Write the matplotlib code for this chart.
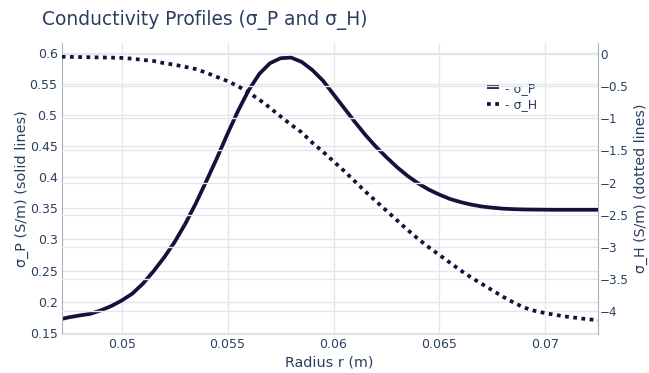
import matplotlib
matplotlib.use("Agg")
import matplotlib.pyplot as plt
from matplotlib.ticker import FuncFormatter, MultipleLocator

# radius samples (m)
radius = [0.04717, 0.0475, 0.048, 0.0485, 0.049, 0.0495, 0.050, 0.0505, 0.051, 0.0515,
          0.052, 0.0525, 0.053, 0.0535, 0.054, 0.0545, 0.055, 0.0555, 0.056, 0.0565,
          0.057, 0.0575, 0.058, 0.0585, 0.059, 0.0595, 0.060, 0.0605, 0.061, 0.0615,
          0.062, 0.0625, 0.063, 0.0635, 0.064, 0.0645, 0.065, 0.0655, 0.066, 0.0665,
          0.067, 0.0675, 0.068, 0.0685, 0.069, 0.0695, 0.070, 0.0705, 0.071, 0.0715,
          0.072, 0.0725]

# Pedersen conductivity (S/m)
sigma_p = [0.1725, 0.175, 0.178, 0.1805, 0.186, 0.193, 0.202, 0.213, 0.229, 0.249,
           0.271, 0.296, 0.325, 0.358, 0.394, 0.431, 0.470, 0.507, 0.540, 0.566,
           0.583, 0.591, 0.592, 0.585, 0.572, 0.555, 0.533, 0.511, 0.489, 0.468,
           0.449, 0.432, 0.416, 0.402, 0.390, 0.380, 0.372, 0.365, 0.360, 0.356,
           0.353, 0.351, 0.3495, 0.3487, 0.3482, 0.348, 0.3478, 0.3477, 0.3477, 0.3477,
           0.3477, 0.3477]

# Hall conductivity (S/m)
sigma_h = [-0.04, -0.042, -0.045, -0.048, -0.051, -0.054, -0.058, -0.07, -0.09, -0.106,
           -0.14, -0.165, -0.198, -0.232, -0.29, -0.355, -0.42, -0.50, -0.60, -0.71,
           -0.835, -0.97, -1.10, -1.22, -1.38, -1.52, -1.67, -1.82, -1.98, -2.14,
           -2.29, -2.44, -2.59, -2.74, -2.88, -3.01, -3.13, -3.25, -3.37, -3.48,
           -3.58, -3.68, -3.78, -3.87, -3.95, -4.00, -4.035, -4.065, -4.09, -4.11,
           -4.13, -4.145]

TEXT = '#2a3f5f'
LINE = '#15103c'
GRID = '#e3e7ec'

plt.rcParams['font.family'] = ['DejaVu Sans']

fig = plt.figure(figsize=(6.49, 3.73), dpi=100)
ax = fig.add_axes([0.0951, 0.1046, 0.921 - 0.0951, 0.884 - 0.1046])
ax2 = ax.twinx()

lp, = ax.plot(radius, sigma_p, color=LINE, lw=2.7, solid_capstyle='butt', label='- σ_P')
lh, = ax2.plot(radius, sigma_h, color=LINE, lw=2.7, linestyle=(0, (1, 1.2)),
               dash_capstyle='butt', label='- σ_H')

ax.set_xlim(0.04717, 0.07247)
ax.set_ylim(0.1483, 0.615)
ax2.set_ylim(-4.36, 0.17)

ax.xaxis.set_major_locator(MultipleLocator(0.005))
ax.yaxis.set_major_locator(MultipleLocator(0.05))
ax2.yaxis.set_major_locator(MultipleLocator(0.5))

fmt = FuncFormatter(lambda v, p: ('%g' % round(v, 4)).replace('-', '\u2212'))
ax.xaxis.set_major_formatter(fmt)
ax.yaxis.set_major_formatter(fmt)
ax2.yaxis.set_major_formatter(fmt)

for a in (ax, ax2):
    a.grid(True, color=GRID, lw=1)
    a.set_axisbelow(True)
    a.tick_params(colors=TEXT, labelsize=9, length=0, pad=3)
    for s in a.spines.values():
        s.set_visible(False)
ax.grid(True, axis='x', color=GRID, lw=1)
ax2.grid(True, axis='y', color=GRID, lw=1)
ax2.grid(False, axis='x')
ax2.tick_params(axis='y', labelsize=8.6, pad=1.5)

ax.spines['left'].set_visible(True)
ax.spines['left'].set_color('#a8b0bc')
ax2.spines['right'].set_visible(True)
ax2.spines['right'].set_color('#a8b0bc')
ax.spines['bottom'].set_visible(True)
ax.spines['bottom'].set_color('#dfe3e8')

ax.set_xlabel('Radius r (m)', color=TEXT, fontsize=10.4, labelpad=3)
ax.set_ylabel('σ_P (S/m) (solid lines)', color=TEXT, fontsize=10.4)
ax2.set_ylabel('σ_H (S/m) (dotted lines)', color=TEXT, fontsize=10.2, rotation=90)
ax.yaxis.set_label_coords(-0.061, 0.5)
ax2.yaxis.set_label_coords(1.067, 0.5)

fig.text(42 / 649, 1 - 20 / 373, 'Conductivity Profiles (σ_P and σ_H)',
         color=TEXT, fontsize=13.4, va='center', ha='left')

leg = ax.legend(handles=[lp, lh], loc='upper left', bbox_to_anchor=(0.785, 0.885),
                frameon=False, fontsize=9, handlelength=0.9, handletextpad=0.5,
                labelspacing=0.3, borderaxespad=0)
for t in leg.get_texts():
    t.set_color(TEXT)

fig.savefig('out.png', dpi=100)
